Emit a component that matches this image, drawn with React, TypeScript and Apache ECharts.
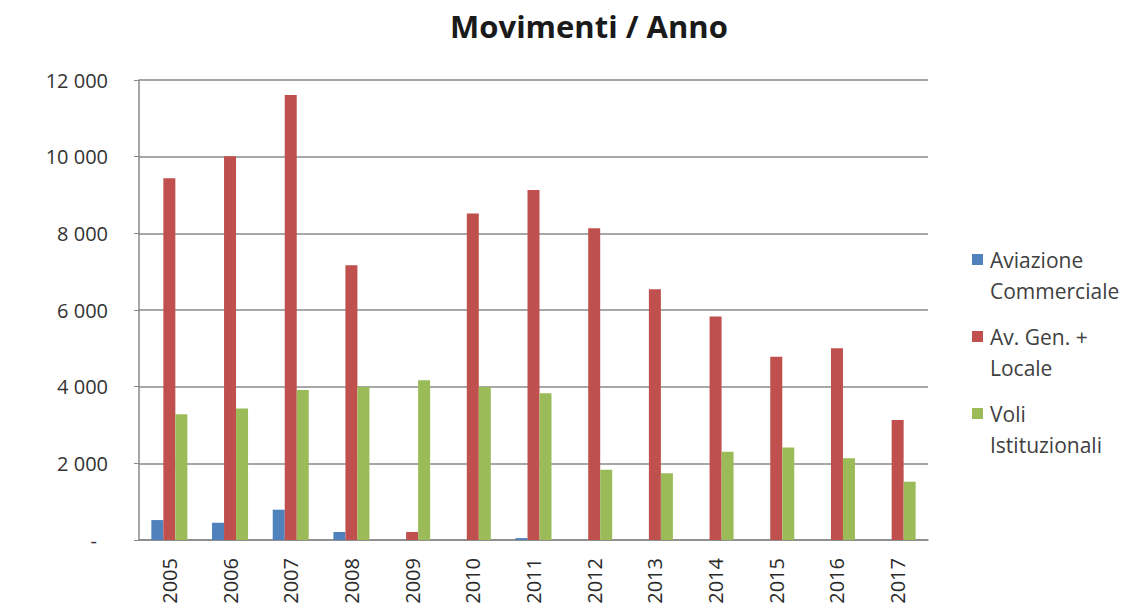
import React, { useEffect, useRef } from "react";
import * as echarts from "echarts";

const years = ["2005", "2006", "2007", "2008", "2009", "2010", "2011", "2012", "2013", "2014", "2015", "2016", "2017"];
const commerciale = [520, 450, 790, 210, 0, 0, 50, 0, 0, 0, 0, 0, 0];
const avGenLocale = [9440, 10010, 11610, 7170, 210, 8520, 9130, 8130, 6540, 5830, 4780, 5000, 3130];
const istituzionali = [3280, 3430, 3910, 3990, 4170, 3990, 3830, 1830, 1740, 2300, 2410, 2130, 1520];
const seriesNames = ["Aviazione Commerciale", "Av. Gen. + Locale", "Voli Istituzionali"];
const legendLabels = ["Aviazione\nCommerciale", "Av. Gen. +\nLocale", "Voli\nIstituzionali"];
const colors = ["#4F81BD", "#C0504D", "#9BBB59"];

const FONT = "'Open Sans', sans-serif";
const LH = 31;

export default function App() {
  const ref = useRef<HTMLDivElement>(null);
  useEffect(() => {
    if (!ref.current) return;
    const chart = echarts.init(ref.current, null, { renderer: "svg" });
    const data = [commerciale, avGenLocale, istituzionali];
    chart.setOption({
      animation: false,
      backgroundColor: "#fff",
      title: {
        text: "Movimenti / Anno",
        left: 584,
        top: 5,
        textAlign: "center",
        textStyle: { fontFamily: FONT, fontWeight: "bold", fontSize: 31, color: "#1a1a1a" },
      },
      legend: {
        orient: "vertical",
        left: 972,
        top: 213,
        padding: 0,
        itemWidth: 11,
        itemHeight: 11,
        itemGap: -16,
        icon: "rect",
        data: seriesNames,
        formatter: (name: string) => "\n" + legendLabels[seriesNames.indexOf(name)],
        textStyle: {
          fontFamily: FONT,
          fontSize: 21,
          color: "#404040",
          lineHeight: LH,
          padding: [0, 0, 0, 2],
        },
      },
      grid: { left: 139, right: 211, top: 80, bottom: 72, containLabel: false },
      xAxis: {
        type: "category",
        data: years,
        axisLine: { lineStyle: { color: "#888", width: 1.5 } },
        axisTick: { show: false },
        axisLabel: { rotate: 90, margin: 18, fontFamily: FONT, fontSize: 20, color: "#2a2a2a" },
      },
      yAxis: {
        type: "value",
        min: 0,
        max: 12000,
        interval: 2000,
        axisLine: { show: true, lineStyle: { color: "#888", width: 1.5 } },
        axisTick: { show: true, length: 5, lineStyle: { color: "#888" } },
        splitLine: { lineStyle: { color: "#8a8a8a", width: 1.5 } },
        axisLabel: {
          margin: 31,
          fontFamily: FONT,
          fontSize: 20,
          color: "#333",
          formatter: (v: number) => {
            if (v === 0) return "{d|-}";
            const t = Math.floor(v / 1000);
            return t + " 000";
          },
          rich: { d: { padding: [0, 11, 0, 0], fontFamily: FONT, fontSize: 20, color: "#333" } },
        },
      },
      series: seriesNames.map((n, i) => ({
        name: n,
        type: "bar",
        data: data[i],
        barWidth: 12,
        barGap: "0%",
        itemStyle: { color: colors[i] },
      })),
    });
    return () => chart.dispose();
  }, []);
  return <div ref={ref} style={{ position: "fixed", left: 0, top: 0, width: 1139, height: 612 }} />;
}
